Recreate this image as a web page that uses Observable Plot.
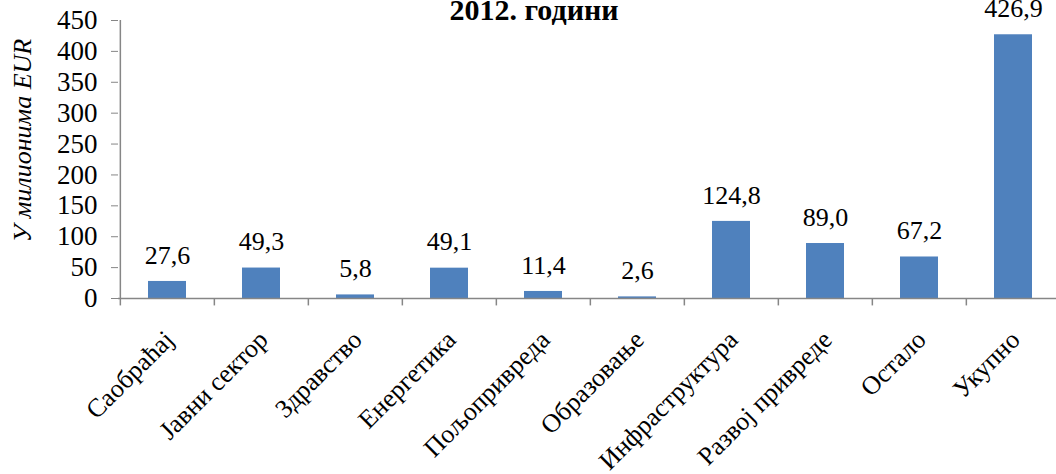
<!DOCTYPE html>
<html>
<head>
<meta charset="utf-8">
<script src="https://cdn.jsdelivr.net/npm/d3@7"></script>
<script src="https://cdn.jsdelivr.net/npm/@observablehq/plot@0.6"></script>
<style>
  html, body { margin: 0; padding: 0; background: #fff; }
  #wrap { position: relative; width: 1056px; height: 474px; overflow: hidden; font-family: "Liberation Serif", "Times New Roman", serif; }
  #title { position: absolute; left: 0; width: 1068px; top: -7px; text-align: center; font-weight: bold; font-size: 30px; line-height: 34px; color: #000; }
  #chart { position: absolute; left: 0; top: 0; }
  #chart svg, #chart svg text { font-family: "Liberation Serif", "Times New Roman", serif !important; }
</style>
</head>
<body>
<div id="wrap">
  <div id="chart"></div>
  <div id="title">2012. години</div>
</div>
<script>
const categories = ["Саобраћај", "Јавни сектор", "Здравство", "Енергетика", "Пољопривреда", "Образовање", "Инфраструктура", "Развој привреде", "Остало", "Укупно"];
const values = [27.6, 49.3, 5.8, 49.1, 11.4, 2.6, 124.8, 89.0, 67.2, 426.9];
const yTicks = [0, 50, 100, 150, 200, 250, 300, 350, 400, 450];

const data = categories.map((c, i) => ({category: c, value: values[i], label: values[i].toFixed(1).replace(".", ",")}));

const W = 1056, H = 474;
const left = 118, right = 1061;
const step = (right - left) / categories.length;
const axisGray = "#868686";
const font = "'Liberation Serif', 'Times New Roman', serif";

const chart = Plot.plot({
  width: W,
  height: H,
  marginLeft: left,
  marginRight: 0,
  marginTop: 20,
  marginBottom: 176,
  style: {fontFamily: font, fontSize: "26px", color: "#000", background: "#fff"},
  x: {domain: categories, range: [left, right], paddingInner: 0.6, paddingOuter: 0.3, axis: null},
  y: {domain: [0, 450], ticks: yTicks, axis: null},
  marks: [
    Plot.barY(data, {x: "category", y: "value", fill: "#4F81BD"}),
    Plot.ruleY([0], {stroke: axisGray, strokeWidth: 1.5}),
    Plot.ruleX([categories[0]], {x: d => d, dx: -step / 2, y1: 0, y2: 450, stroke: axisGray, strokeWidth: 1.5}),
    Plot.ruleX(categories, {x: d => d, dx: -step / 2, y1: 0, y2: -12, stroke: axisGray, strokeWidth: 1.5}),
    Plot.axisY({ticks: yTicks, tickSize: 7, tickPadding: 14, stroke: axisGray, fill: "#000", fontSize: 27, fontFamily: font, label: null}),
    Plot.text(data, {x: "category", y: "value", text: "label", dy: -26, fill: "#000", fontSize: 26, fontFamily: font}),
    Plot.text(categories, {x: d => d, y: 0, text: d => d, rotate: -45, textAnchor: "end", dx: 2, dy: 37, fill: "#000", fontSize: 26, fontFamily: font}),
    Plot.text(["У милионима EUR"], {frameAnchor: "left", textAnchor: "middle", dx: -96, dy: -19, rotate: -90, fontStyle: "italic", fontSize: 26, fontFamily: font, fill: "#000"})
  ]
});
document.getElementById("chart").appendChild(chart);
</script>
</body>
</html>
